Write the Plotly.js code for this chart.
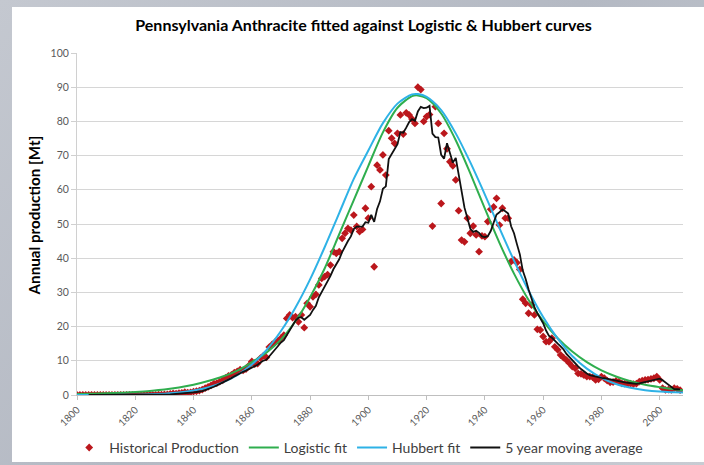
<!DOCTYPE html>
<html>
<head>
<meta charset="utf-8">
<script src="https://cdn.plot.ly/plotly-3.0.1.min.js"></script>
<style>
  html, body { margin: 0; padding: 0; width: 704px; height: 465px; overflow: hidden;
    background: linear-gradient(135deg, #c4c8d0 0%, #b4b9c3 50%, #c8ccd3 100%); }
  #chart { position: absolute; left: 12px; top: 7px; width: 692px; height: 455px; background: #fff; }
</style>
</head>
<body>
<div id="chart"></div>
<script>
// Historical annual production [Mt], 1800 .. 2007 (one value per year)
const startYear = 1800;
const production = [
  0,0,0,0,0,0,0,0,0,0,                                  // 1800s
  0,0,0,0,0,0,0,0,0,0,                                  // 1810s
  0,0,0,0.01,0.01,0.03,0.04,0.06,0.07,0.1,              // 1820s
  0.15,0.16,0.33,0.45,0.36,0.55,0.62,0.8,0.72,0.78,     // 1830s
  1.0,1.1,1.3,1.6,2.0,2.4,2.8,3.3,3.5,3.9,              // 1840s
  4.3,5.0,5.6,5.9,6.5,6.9,7.4,7.2,7.6,8.6,              // 1850s
  9.8,9.0,9.2,10.8,11.5,11.0,14.0,14.8,15.5,15.8,       // 1860s
  16.6,17.5,22.4,23.4,22.6,22.9,21.4,23.4,19.7,26.8,    // 1870s
  25.8,28.7,29.4,32.2,34.1,34.6,35.2,38.0,41.9,41.4,    // 1880s
  41.9,45.8,47.3,48.7,48.2,52.6,49.3,47.8,48.4,54.6,    // 1890s
  51.7,60.9,37.5,67.2,65.8,70.2,64.3,77.3,75.1,73.6,    // 1900s
  76.5,81.9,76.3,82.5,81.9,80.7,79.4,90.0,89.3,80.0,    // 1910s
  81.4,82.0,49.4,84.3,79.4,56.0,76.5,72.0,68.2,67.0,    // 1920s
  62.9,53.9,45.3,44.8,51.7,47.3,49.4,46.8,41.9,46.5,    // 1930s
  46.3,50.7,54.3,55.0,57.5,49.7,54.6,51.7,51.7,39.0,    // 1940s
  39.5,38.7,36.7,28.0,26.8,23.9,26.3,23.4,19.2,19.0,    // 1950s
  17.1,15.6,15.6,16.6,14.1,13.2,11.7,10.9,10.2,9.3,     // 1960s
  8.3,7.8,6.3,6.2,5.8,5.4,5.4,5.2,4.4,4.6,              // 1970s
  5.4,4.9,4.2,3.7,3.8,4.1,3.9,3.4,3.3,3.2,              // 1980s
  3.3,3.2,3.3,3.9,4.2,4.4,4.5,4.7,4.9,5.4,              // 1990s
  4.4,2.0,1.5,1.6,1.5,2.0,1.8,1.4                       // 2000s
];

// 5 year moving average [Mt], 1804 .. 2007 (one value per year)
const maStartYear = 1804;
const movingAverage = [
  0,0,0,0,0,0,                                          // 1804-1809
  0,0,0,0,0,0,0,0,0,0,                                  // 1810s
  0,0,0,0,0,0.01,0.02,0.03,0.04,0.06,                   // 1820s
  0.08,0.11,0.16,0.24,0.29,0.37,0.46,0.56,0.61,0.69,    // 1830s
  0.78,0.88,0.98,1.16,1.4,1.68,2.02,2.42,2.8,3.18,      // 1840s
  3.56,4.0,4.46,4.94,5.46,5.98,6.46,6.78,7.12,7.54,     // 1850s
  8.12,8.44,8.84,9.48,10.06,10.3,11.3,12.42,13.36,14.22,// 1860s
  15.34,16.04,17.56,19.14,20.5,21.76,22.54,22.74,22.0,22.84, // 1870s
  23.42,24.88,26.08,28.58,30.04,31.8,33.1,34.82,36.76,38.22, // 1880s
  39.68,41.8,43.66,45.02,46.38,48.52,49.22,49.32,49.26,50.54, // 1890s
  50.36,52.68,50.62,54.38,56.62,60.32,61.0,68.96,70.54,72.1,  // 1900s
  73.36,76.88,76.68,78.16,79.82,80.66,80.16,82.9,84.26,83.88, // 1910s
  84.02,84.54,76.42,75.42,75.3,70.22,69.12,73.64,70.42,67.94, // 1920s
  69.32,64.8,59.46,54.78,51.72,48.6,47.7,48.0,47.42,46.38,    // 1930s
  46.18,46.44,47.94,50.56,52.76,53.44,54.22,53.7,53.04,49.34, // 1940s
  47.3,44.12,41.12,36.38,33.94,30.82,28.34,25.68,23.92,22.36, // 1950s
  21.0,18.86,17.3,16.78,15.8,15.02,14.24,13.3,12.02,11.06,    // 1960s
  10.08,9.3,8.38,7.58,6.88,6.3,5.82,5.6,5.24,5.0,             // 1970s
  5.0,4.9,4.7,4.56,4.4,4.14,3.94,3.78,3.7,3.58,               // 1980s
  3.42,3.28,3.26,3.38,3.58,3.8,4.06,4.34,4.54,4.78,           // 1990s
  4.78,4.28,3.64,2.98,2.2,1.72,1.68,1.66                      // 2000s
];

// Fitted curves
const fitYears = [1800,1805,1810,1815,1820,1825,1830,1835,1840,1845,1850,1855,1860,1865,1870,1875,1880,1885,1890,1895,1900,1905,1910,1915,1917,1920,1925,1930,1935,1940,1945,1950,1955,1960,1965,1970,1975,1980,1985,1990,1995,2000,2005,2008];
const logisticFit = [0.3,0.4,0.5,0.65,0.9,1.2,1.6,2.2,3.0,4.1,5.4,7.1,9.6,12.4,16.2,21.6,28.6,37.0,47.0,57.0,67.0,76.8,84.0,87.4,87.6,86.8,82.3,74.5,64.8,54.5,44.5,35.5,27.8,21.6,16.6,12.7,9.6,7.2,5.4,4.0,3.0,2.3,1.7,1.4];
const hubbertFit = [0.0,0.01,0.02,0.05,0.1,0.2,0.4,0.75,1.3,2.2,3.7,5.8,8.9,13.1,18.7,25.6,33.8,43.2,53.2,63.2,71.5,79.5,85.2,87.9,88.0,87.2,83.3,76.5,68.0,58.6,48.8,39.3,30.5,22.8,16.5,11.4,7.7,5.0,3.2,2.1,1.4,1.0,0.8,0.7];

const xTickVals = [1800,1820,1840,1860,1880,1900,1920,1940,1960,1980,2000];

const years = production.map((_, i) => startYear + i);
const maYears = movingAverage.map((_, i) => maStartYear + i);

const FONT = 'Lato, "Open Sans", "Liberation Sans", sans-serif';

const traces = [
  {
    x: years, y: production, name: 'Historical Production',
    type: 'scatter', mode: 'markers',
    marker: { symbol: 'diamond', size: 6, color: '#bb171c' }
  },
  {
    x: fitYears, y: logisticFit, name: 'Logistic fit',
    type: 'scatter', mode: 'lines',
    line: { color: '#2fae4e', width: 2, shape: 'spline', smoothing: 0.8 }
  },
  {
    x: fitYears, y: hubbertFit, name: 'Hubbert fit',
    type: 'scatter', mode: 'lines',
    line: { color: '#2eb2e6', width: 2, shape: 'spline', smoothing: 0.8 }
  },
  {
    x: maYears, y: movingAverage, name: '5 year moving average',
    type: 'scatter', mode: 'lines',
    line: { color: '#111111', width: 1.8 }
  }
];

const layout = {
  width: 692, height: 455,
  margin: { l: 65, r: 21, t: 46, b: 67, pad: 0, autoexpand: false },
  paper_bgcolor: '#ffffff', plot_bgcolor: '#ffffff',
  font: { family: FONT, color: '#404040' },
  showlegend: true,
  title: {
    text: '<b>Pennsylvania Anthracite fitted against Logistic &amp; Hubbert curves</b>',
    font: { family: FONT, size: 16, color: '#000000' },
    xref: 'container', yref: 'container', x: 0.508, y: 0.96,
    xanchor: 'center', yanchor: 'middle', automargin: false
  },
  xaxis: {
    type: 'linear', range: [1800, 2008], automargin: false,
    tickmode: 'array', tickvals: xTickVals, ticktext: xTickVals.map(String),
    tickangle: -45, ticks: 'outside', ticklen: 4, tickcolor: '#bfbfbf',
    tickfont: { family: FONT, size: 10, color: '#595959' },
    showgrid: false, zeroline: false,
    showline: true, linecolor: '#bfbfbf', linewidth: 1
  },
  yaxis: {
    range: [0, 100], dtick: 10, tick0: 0, automargin: false,
    ticks: 'outside', ticklen: 5, tickcolor: '#d0d0d0',
    tickfont: { family: FONT, size: 10.5, color: '#595959' },
    showgrid: true, gridcolor: '#d6d6d6', gridwidth: 1,
    zeroline: false, showline: true, linecolor: '#d0d0d0', linewidth: 1
  },
  annotations: [{
    text: '<b>Annual production [Mt]</b>', textangle: -90,
    xref: 'paper', yref: 'paper', x: -0.071, y: 0.525,
    xanchor: 'center', yanchor: 'middle', showarrow: false,
    font: { family: FONT, size: 15.2, color: '#000000' }
  }],
  legend: {
    orientation: 'h', xref: 'container', yref: 'container',
    x: 0.501, xanchor: 'center', y: 0.031, yanchor: 'middle',
    font: { family: FONT, size: 14, color: '#404040' },
    itemwidth: 30, tracegroupgap: 0, bgcolor: 'rgba(0,0,0,0)'
  },
  hovermode: false
};

Plotly.newPlot('chart', traces, layout, { displayModeBar: false, staticPlot: true });
</script>
</body>
</html>
